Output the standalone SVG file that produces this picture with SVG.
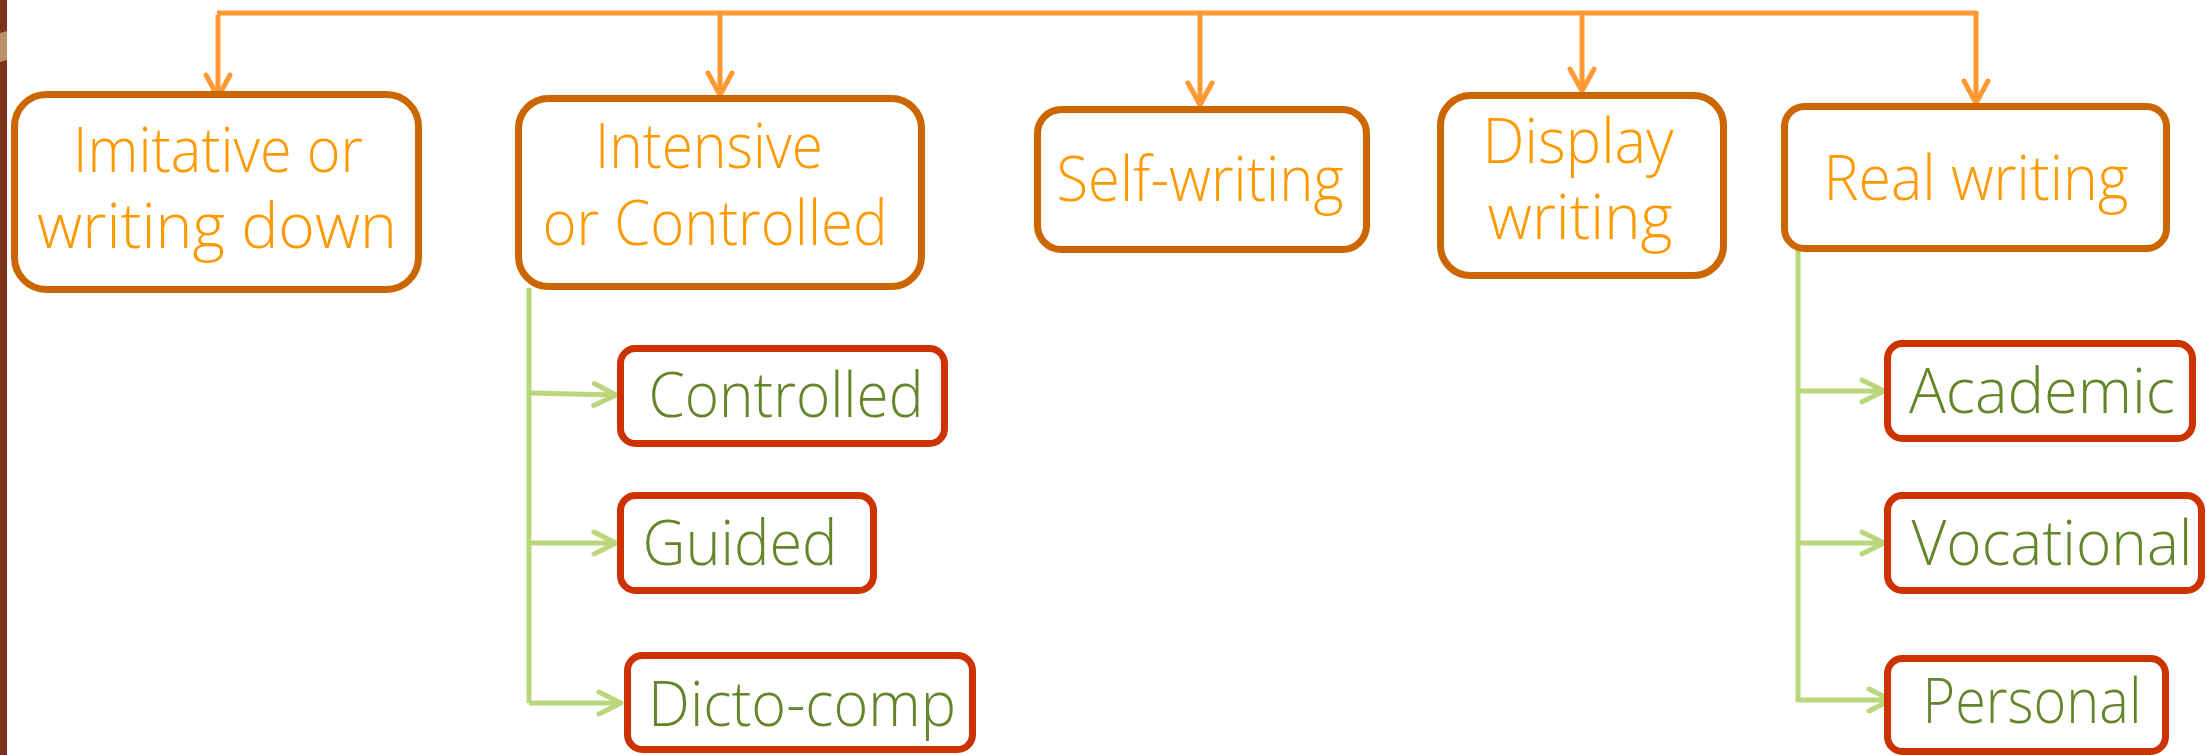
<svg xmlns="http://www.w3.org/2000/svg" width="2207" height="755" viewBox="0 0 2207 755">
<defs>
<style>
.main{fill:#fff;stroke:#CC6600;stroke-width:7}
.sub{fill:#fff;stroke:#CC3300;stroke-width:7}
.t1{font-family:"Open Sans","Liberation Sans",sans-serif;font-weight:300;font-size:62px;fill:#FF9900;text-anchor:middle}
.t2{font-family:"Open Sans","Liberation Sans",sans-serif;font-weight:300;font-size:62px;fill:#64862A;text-anchor:middle}
.co{fill:none;stroke:#FF9933;stroke-width:5}
.cg{fill:none;stroke:#BAD77C;stroke-width:5}
</style>
<marker id="ao" markerUnits="userSpaceOnUse" markerWidth="40" markerHeight="40" viewBox="-30 -20 40 40" refX="0" refY="0" orient="auto">
<path d="M-22,-12 L0,0 L-22,12" fill="none" stroke="#FF9933" stroke-width="5" stroke-linecap="round" stroke-linejoin="round"/>
</marker>
<marker id="ag" markerUnits="userSpaceOnUse" markerWidth="40" markerHeight="40" viewBox="-30 -20 40 40" refX="0" refY="0" orient="auto">
<path d="M-22,-11 L0,0 L-22,11" fill="none" stroke="#BAD77C" stroke-width="5" stroke-linecap="round" stroke-linejoin="round"/>
</marker>
</defs>
<rect x="0" y="0" width="2207" height="755" fill="#fff"/>
<rect x="0" y="0" width="7" height="755" fill="#7A3318"/>
<polygon points="0,33 7,31 7,60 0,62" fill="#B8916B"/>

<g id="connectors">
<path class="co" d="M217,13 H1976"/>
<path class="co" d="M218,15 V97" marker-end="url(#ao)"/>
<path class="co" d="M720,15 V95" marker-end="url(#ao)"/>
<path class="co" d="M1200,15 V105" marker-end="url(#ao)"/>
<path class="co" d="M1582,15 V91" marker-end="url(#ao)"/>
<path class="co" d="M1976,11 V103" marker-end="url(#ao)"/>
<path class="cg" d="M529,288 V703"/>
<path class="cg" d="M529,393 L616,395" marker-end="url(#ag)"/>
<path class="cg" d="M529,543 H616" marker-end="url(#ag)"/>
<path class="cg" d="M529,703 H621" marker-end="url(#ag)"/>
<path class="cg" d="M1798,250 V702"/>
<path class="cg" d="M1798,391 H1884" marker-end="url(#ag)"/>
<path class="cg" d="M1798,543 H1884" marker-end="url(#ag)"/>
<path class="cg" d="M1798,700 H1891" marker-end="url(#ag)"/>
</g>

<g id="imitative">
<rect class="main" x="14.5" y="94.5" width="404" height="195" rx="32"/>
<text class="t1" x="218" y="172" textLength="290" lengthAdjust="spacingAndGlyphs">Imitative or</text>
<text class="t1" x="217" y="248" textLength="360" lengthAdjust="spacingAndGlyphs">writing down</text>
</g>
<g id="intensive">
<rect class="main" x="518.5" y="98.5" width="403" height="188" rx="30"/>
<text class="t1" x="709" y="168" textLength="228" lengthAdjust="spacingAndGlyphs">Intensive</text>
<text class="t1" x="715" y="245" textLength="345" lengthAdjust="spacingAndGlyphs">or Controlled</text>
</g>
<g id="self">
<rect class="main" x="1037.5" y="109.5" width="329" height="140" rx="24"/>
<text class="t1" x="1200" y="201" textLength="287" lengthAdjust="spacingAndGlyphs">Self-writing</text>
</g>
<g id="display">
<rect class="main" x="1440.5" y="95.5" width="283" height="180" rx="30"/>
<text class="t1" x="1578" y="163" textLength="191" lengthAdjust="spacingAndGlyphs">Display</text>
<text class="t1" x="1580" y="239" textLength="185" lengthAdjust="spacingAndGlyphs">writing</text>
</g>
<g id="real">
<rect class="main" x="1784.5" y="106.5" width="382" height="142" rx="20"/>
<text class="t1" x="1976" y="200" textLength="305" lengthAdjust="spacingAndGlyphs">Real writing</text>
</g>

<g id="controlled">
<rect class="sub" x="620.5" y="348.5" width="324" height="95" rx="15"/>
<text class="t2" x="786" y="417" textLength="275" lengthAdjust="spacingAndGlyphs">Controlled</text>
</g>
<g id="guided">
<rect class="sub" x="620.5" y="495.5" width="253" height="95" rx="15"/>
<text class="t2" x="740" y="565" textLength="195" lengthAdjust="spacingAndGlyphs">Guided</text>
</g>
<g id="dicto">
<rect class="sub" x="627.5" y="655.5" width="345" height="94" rx="15"/>
<text class="t2" x="802" y="726" textLength="308" lengthAdjust="spacingAndGlyphs">Dicto-comp</text>
</g>
<g id="academic">
<rect class="sub" x="1887.5" y="343.5" width="305" height="95" rx="15"/>
<text class="t2" x="2042" y="413" textLength="266" lengthAdjust="spacingAndGlyphs">Academic</text>
</g>
<g id="vocational">
<rect class="sub" x="1887.5" y="495.5" width="314" height="95" rx="15"/>
<text class="t2" x="2052" y="565" textLength="281" lengthAdjust="spacingAndGlyphs">Vocational</text>
</g>
<g id="personal">
<rect class="sub" x="1887.5" y="658.5" width="278" height="93" rx="15"/>
<text class="t2" x="2032" y="723" textLength="219" lengthAdjust="spacingAndGlyphs">Personal</text>
</g>
</svg>
